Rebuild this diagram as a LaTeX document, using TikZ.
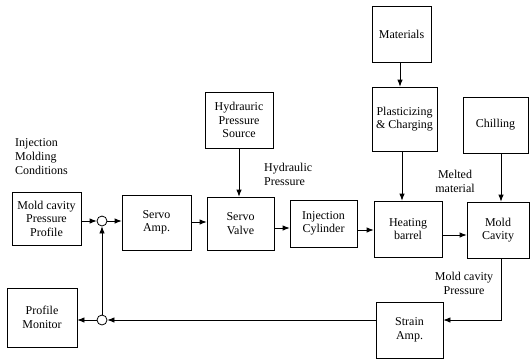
\documentclass[tikz,border=0pt]{standalone}
\usepackage{fontspec}
\setmainfont{Liberation Serif}
\usetikzlibrary{arrows.meta}
\begin{document}
\begin{tikzpicture}[x=1pt,y=-1pt,
  box/.style={draw,line width=0.8pt,inner sep=1pt,align=center,font=\fontsize{12}{13.5}\selectfont},
  sum/.style={draw,line width=0.8pt,circle,minimum size=10pt,inner sep=0pt},
  lbl/.style={font=\fontsize{12}{14}\selectfont,inner sep=0pt},
  arr/.style={line width=0.8pt,-{Latex[length=7pt,width=5.5pt]}},
  ln/.style={line width=0.8pt}]
\useasboundingbox (0,0) rectangle (530,360);
% boxes
\node[box,minimum width=69pt,minimum height=53pt] (mcp) at (46.5,218.5) {Mold cavity\\Pressure\\Profile};
\node[box,minimum width=70pt,minimum height=59pt] (pm) at (42,317.5) {Profile\\Monitor};
\node[box,minimum width=69pt,minimum height=55pt] (sa) at (156.5,222.5) {Servo\\Amp.};
\node[box,minimum width=67pt,minimum height=53pt] (sv) at (240.5,223.5) {Servo\\Valve};
\node[box,minimum width=67pt,minimum height=47pt] (ic) at (323.5,223.5) {Injection\\Cylinder};
\node[box,minimum width=68pt,minimum height=56pt] (hb) at (408,229) {Heating\\barrel};
\node[box,minimum width=62pt,minimum height=56pt] (mc) at (498,230) {Mold\\Cavity};
\node[box,minimum width=68pt,minimum height=56pt] (hps) at (239,120) {Hydrauric\\Pressure\\Source};
\node[box,minimum width=59pt,minimum height=56pt] (mat) at (401.5,34) {Materials};
\node[box,minimum width=65pt,minimum height=64pt] (pc) at (404.5,119) {Plasticizing\\\& Charging};
\node[box,minimum width=65pt,minimum height=56pt] (chill) at (495.5,125) {Chilling};
\node[box,minimum width=67pt,minimum height=56pt] (sta) at (409.5,330) {Strain\\Amp.};
% summing junctions
\node[sum] (c1) at (102,221) {};
\node[sum] (c2) at (102,320) {};
% labels
\node[lbl,align=left,anchor=north west] (imc) at (15,138) {Injection\\Molding\\Conditions};
\node[lbl,align=left,anchor=north west] (hp) at (264,163) {Hydraulic\\Pressure};
\node[lbl,align=center,anchor=north] (mm) at (455,170) {Melted\\material};
\node[lbl,align=center,anchor=north] (mcpl) at (464,272) {Mold cavity\\Pressure};
% connectors
\draw[arr] (mcp.east |- c1) -- (c1.west);
\draw[arr] (c1.east) -- (sa.west |- c1);
\coordinate (y1) at (0,222);
\draw[arr] (sa.east |- y1) -- (sv.west |- y1);
\coordinate (y2) at (0,228);
\draw[arr] (sv.east |- y2) -- (ic.west |- y2);
\coordinate (y3) at (0,230);
\draw[arr] (ic.east |- y3) -- (hb.west |- y3);
\coordinate (y4) at (0,235);
\draw[arr] (hb.east |- y4) -- (mc.west |- y4);
\draw[arr] (hps.south) -- (sv.north -| hps.south);
\coordinate (x1) at (400,0);
\draw[arr] (mat.south -| x1) -- (pc.north -| x1);
\coordinate (x2) at (402,0);
\draw[arr] (pc.south -| x2) -- (hb.north -| x2);
\coordinate (x3) at (501,0);
\draw[arr] (chill.south -| x3) -- (mc.north -| x3);
\coordinate (fb) at (501,320);
\draw[arr] (mc.south -| x3) -- (fb) -- (sta.east |- fb);
\draw[arr] (sta.west |- c2) -- (c2.east);
\draw[arr] (c2.west) -- (pm.east |- c2);
\draw[arr] (c2.north) -- (c1.south);
\end{tikzpicture}
\end{document}
